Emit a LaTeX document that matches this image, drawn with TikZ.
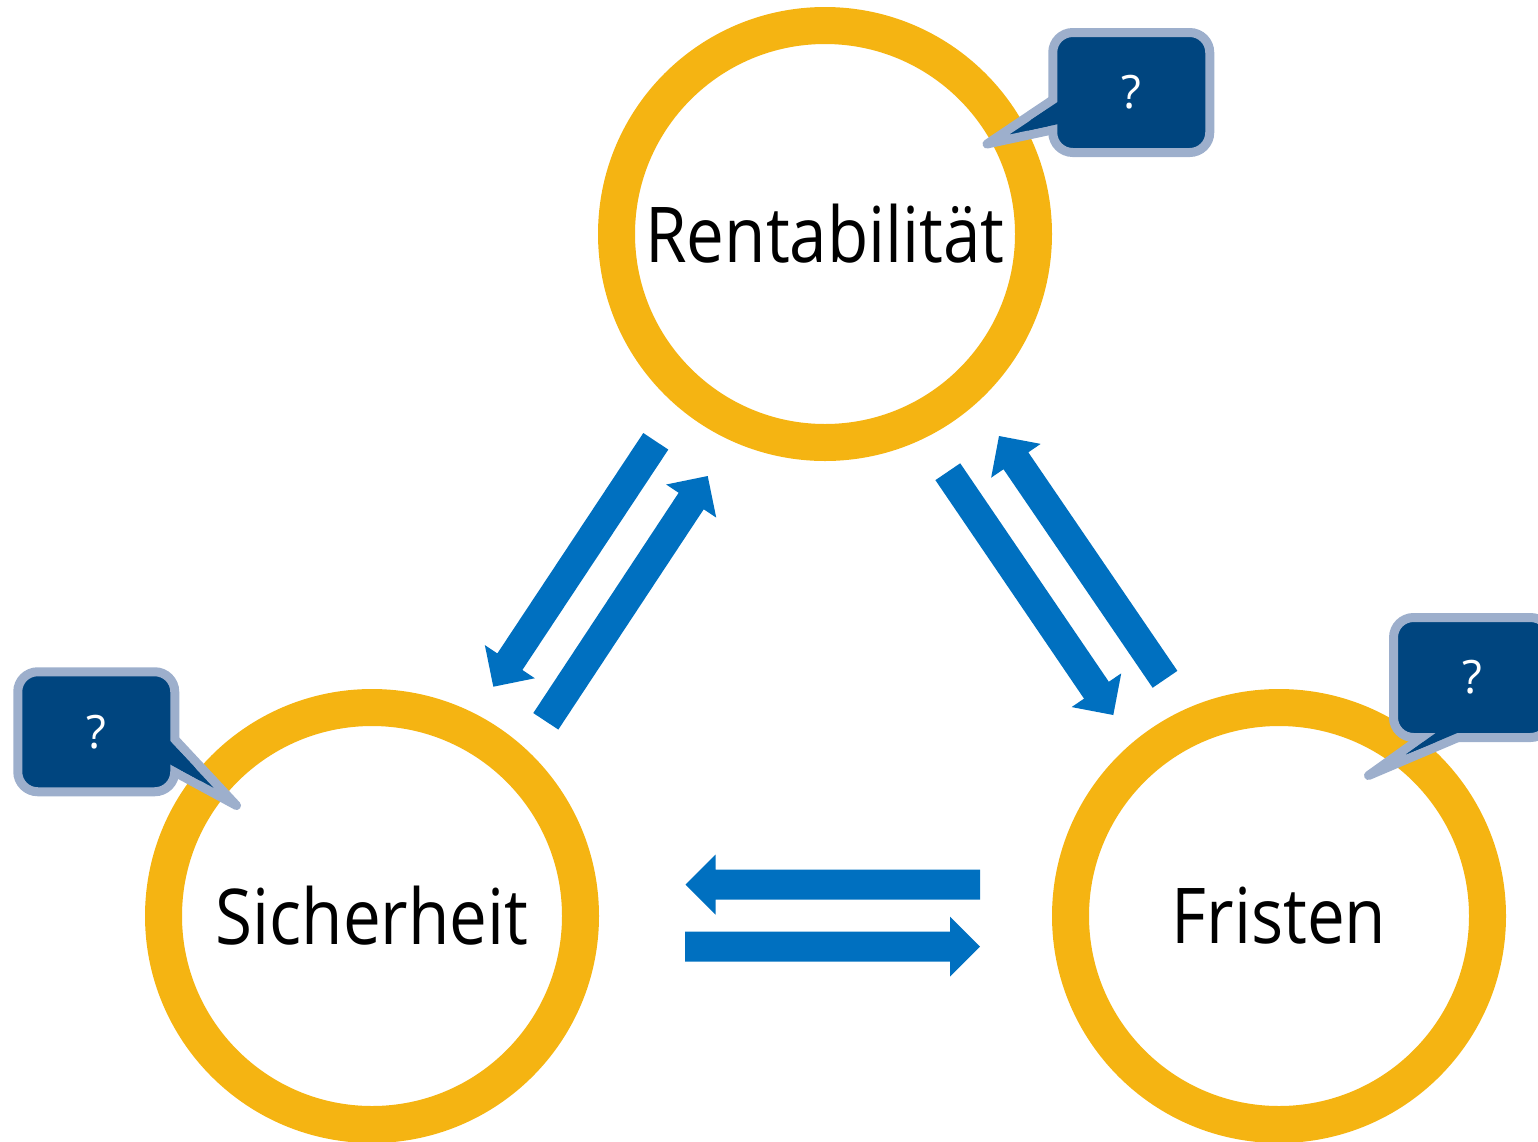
\documentclass[tikz,border=0pt]{standalone}
\usepackage{fontspec}
\setmainfont{Open Sans}
\newfontfamily\goalfont[FakeStretch=0.875]{Open Sans}
\usetikzlibrary{calc}
\definecolor{ringyellow}{HTML}{F5B412}
\definecolor{flowblue}{HTML}{0070C0}
\definecolor{bubblenavy}{HTML}{00457F}
\definecolor{bubbleedge}{HTML}{9DAFCC}
\tikzset{
  ring/.style={circle, draw=ringyellow, line width=37pt, minimum size=417pt, inner sep=0pt, fill=white,
    font=\goalfont\fontsize{77}{90}\selectfont},
  flow/.style={fill=flowblue},
  tail/.style={draw=bubbleedge, fill=bubblenavy, line width=9pt, line join=round},
  tailfill/.style={fill=bubblenavy},
  bubblebox/.style={rectangle, rounded corners=20pt, draw=bubbleedge, fill=bubblenavy, line width=9pt,
    minimum width=157pt, minimum height=120pt, inner sep=0pt, text=white,
    font=\fontsize{46}{50}\selectfont},
}
% block arrow from tail (#1) to tip (#2): shaft 30, head 60 wide and 30 long
\newcommand\flowarrow[2]{%
  \path ($(#2)!30pt!(#1)$) coordinate (#1-base);
  \fill[flow] ($(#1)!15pt!90:(#2)$) -- ($(#1-base)!15pt!90:(#2)$) -- ($(#1-base)!30pt!90:(#2)$)
    -- (#2) -- ($(#1-base)!30pt!-90:(#2)$) -- ($(#1-base)!15pt!-90:(#2)$) -- ($(#1)!15pt!-90:(#2)$) -- cycle;}
% speech bubble: node name, centre, text, pointer tip, two base points of the pointer inside the box
\newcommand\speech[6]{%
  \coordinate (#1-tip) at #4;
  \coordinate (#1-b1) at #5;
  \coordinate (#1-b2) at #6;
  \draw[tail] (#1-b1) -- (#1-tip) -- (#1-b2) -- cycle;
  \node[bubblebox] (#1) at #2 {#3};
  % open the box edge where the pointer joins, keeping the pointer's own border
  \coordinate (#1-f1) at ($(#1-tip)!(#1-b2)!(#1-b1)$);
  \coordinate (#1-d1) at ($(#1-f1)!4.5pt!(#1-b2)$);
  \coordinate (#1-f2) at ($(#1-tip)!(#1-b1)!(#1-b2)$);
  \coordinate (#1-d2) at ($(#1-f2)!4.5pt!(#1-b1)$);
  \fill[tailfill] ($(#1-b1) + (#1-d1) - (#1-f1)$) -- ($(#1-tip)!0.5!(#1-b1) + (#1-d1) - (#1-f1)$)
    -- ($(#1-tip)!0.5!(#1-b2) + (#1-d2) - (#1-f2)$) -- ($(#1-b2) + (#1-d2) - (#1-f2)$) -- cycle;}
\begin{document}
\begin{tikzpicture}[x=1pt, y=-1pt]
\useasboundingbox (0,0) rectangle (1538,1141);
\clip (0,0) rectangle (1538,1141);

% the three goals
\node[ring] (rent) at (825,234) {Rentabilität};
\node[ring] (sich) at (372,916) {Sicherheit};
\node[ring] (frist) at (1279,916) {Fristen};

% arrow ends
\coordinate (rs-t) at (655.8,441.3);  \coordinate (rs-h) at (493.3,686.7);
\coordinate (sr-t) at (545.8,721.3);  \coordinate (sr-h) at (707.7,476);
\coordinate (rf-t) at (947.8,471.7);  \coordinate (rf-h) at (1113.3,715);
\coordinate (fr-t) at (1165,679.3);   \coordinate (fr-h) at (999,436);
\coordinate (fs-t) at (980,884.5);    \coordinate (fs-h) at (685.5,884.5);
\coordinate (sf-t) at (685,946.7);    \coordinate (sf-h) at (980,946.7);

\flowarrow{rs-t}{rs-h}
\flowarrow{sr-t}{sr-h}
\flowarrow{rf-t}{rf-h}
\flowarrow{fr-t}{fr-h}
\flowarrow{fs-t}{fs-h}
\flowarrow{sf-t}{sf-h}

% speech bubbles
\speech{q-rent}{(1131.25,92.5)}{?}{(987,144)}{(1070,88.3)}{(1070,126.1)}
\speech{q-sich}{(96.25,731.75)}{?}{(236.5,805.5)}{(160,723.5)}{(160,764)}
\speech{q-frist}{(1472,677.5)}{?}{(1368.5,775.5)}{(1439.2,725)}{(1487.5,725)}
\end{tikzpicture}
\end{document}
